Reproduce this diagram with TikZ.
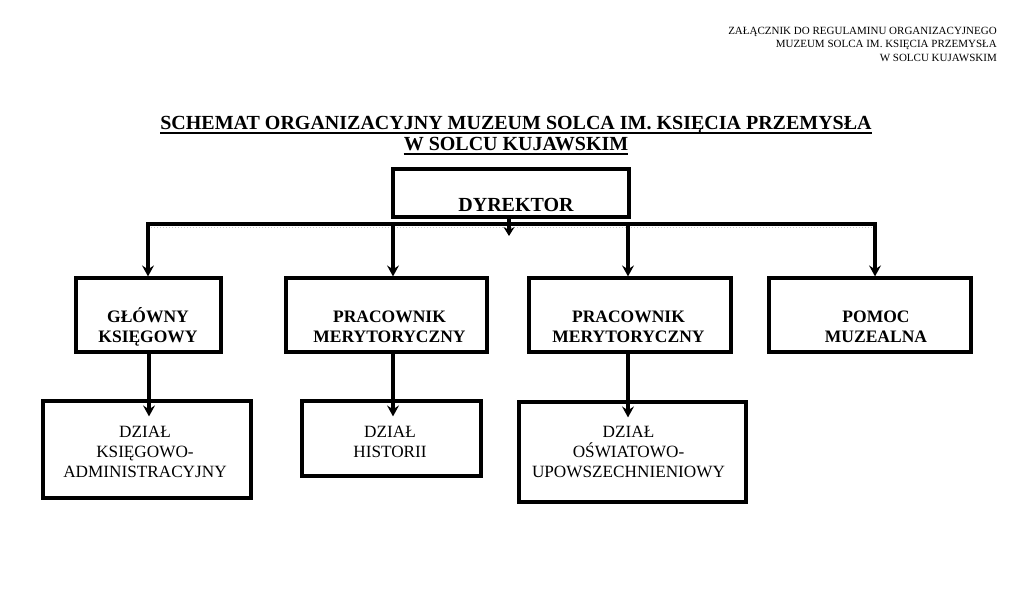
\documentclass[tikz,border=0pt]{standalone}
\usepackage{fontspec}
\setmainfont{Liberation Serif}
\usetikzlibrary{arrows.meta,calc}
\begin{document}
\begin{tikzpicture}[x=1pt,y=-1pt,
  box/.style={draw, line width=3.2pt, inner sep=0pt},
  arr/.style={line width=3.2pt, -{Stealth[length=11pt,width=12pt,inset=4pt]}},
  busline/.style={line width=3.2pt, line cap=rect},
  lvltwo/.style={font=\fontsize{17.5}{19.5}\selectfont\bfseries, align=center, inner sep=0pt, anchor=base},
  lvlthree/.style={font=\fontsize{17.2}{20}\selectfont, align=center, inner sep=0pt, anchor=base},
  titletext/.style={font=\fontsize{20}{22}\selectfont\bfseries, inner sep=0pt, anchor=base},
]
\useasboundingbox[fill=white] (0,0) rectangle (1024,612);

% header (anchor base = last line)
\node[anchor=base east, align=right, font=\fontsize{11}{13.5}\selectfont, inner sep=0pt] (hdr) at (997,61.5)
  {ZAŁĄCZNIK DO REGULAMINU ORGANIZACYJNEGO\\MUZEUM SOLCA IM. KSIĘCIA PRZEMYSŁA\\W SOLCU KUJAWSKIM};

% title
\node[titletext] (t1) at (516,130) {SCHEMAT ORGANIZACYJNY MUZEUM SOLCA IM. KSIĘCIA PRZEMYSŁA};
\node[titletext] (t2) at (516,151) {W SOLCU KUJAWSKIM};
\draw[line width=1.5pt] ([yshift=-3pt]t1.base west) -- ([yshift=-3pt]t1.base east);
\draw[line width=1.5pt] ([yshift=-3pt]t2.base west) -- ([yshift=-3pt]t2.base east);

% boxes
\node[box, minimum width=236pt, minimum height=48pt] (d) at (511,193) {};
\node[box, minimum width=145pt, minimum height=74pt] (g) at (148.5,315) {};
\node[box, minimum width=201pt, minimum height=74pt] (p1) at (386.5,315) {};
\node[box, minimum width=202pt, minimum height=74pt] (p2) at (630,315) {};
\node[box, minimum width=202pt, minimum height=74pt] (pm) at (870,315) {};
\node[box, minimum width=208pt, minimum height=97pt] (k) at (147,449.5) {};
\node[box, minimum width=179pt, minimum height=75pt] (h) at (391.5,438.5) {};
\node[box, minimum width=227pt, minimum height=100pt] (o) at (632.5,452) {};

% texts (anchor base = last line)
\node[titletext] (dt) at (516,212) {DYREKTOR};
\node[lvltwo] (gt) at (148,342) {GŁÓWNY\\KSIĘGOWY};
\node[lvltwo] (p1t) at (389.5,342) {PRACOWNIK\\MERYTORYCZNY};
\node[lvltwo] (p2t) at (628.5,342) {PRACOWNIK\\MERYTORYCZNY};
\node[lvltwo] (pmt) at (876,342) {POMOC\\MUZEALNA};
\node[lvlthree] (kt) at (145,477) {DZIAŁ\\KSIĘGOWO-\\ADMINISTRACYJNY};
\node[lvlthree] (ht) at (390,457) {DZIAŁ\\HISTORII};
\node[lvlthree] (ot) at (628.5,477) {DZIAŁ\\OŚWIATOWO-\\UPOWSZECHNIENIOWY};

% bus
\coordinate (b1) at (148,224);
\coordinate (b2) at (393,224);
\coordinate (b3) at (628,224);
\coordinate (b4) at (875,224);
\coordinate (dtip) at (509,236);
\draw[gray!45, line width=1pt, dotted] ([yshift=-3.5pt]b1) -- ([yshift=-3.5pt]b4);
\draw[busline] (b1) -- (b4);
\draw[arr, -{Stealth[length=9pt,width=11pt,inset=3pt]}] (d.south -| dtip) -- (dtip);
\draw[arr] (b1) -- (b1 |- g.north);
\draw[arr] (b2) -- (b2 |- p1.north);
\draw[arr] (b3) -- (b3 |- p2.north);
\draw[arr] (b4) -- (b4 |- pm.north);

% second-level connectors
\coordinate (c1) at (149,0);
\draw[arr] (g.south -| c1) -- ([yshift=-17pt]c1 |- k.north);
\draw[arr] (p1.south -| b2) -- ([yshift=-17pt]b2 |- h.north);
\draw[arr] (p2.south -| b3) -- ([yshift=-17pt]b3 |- o.north);
\end{tikzpicture}
\end{document}
